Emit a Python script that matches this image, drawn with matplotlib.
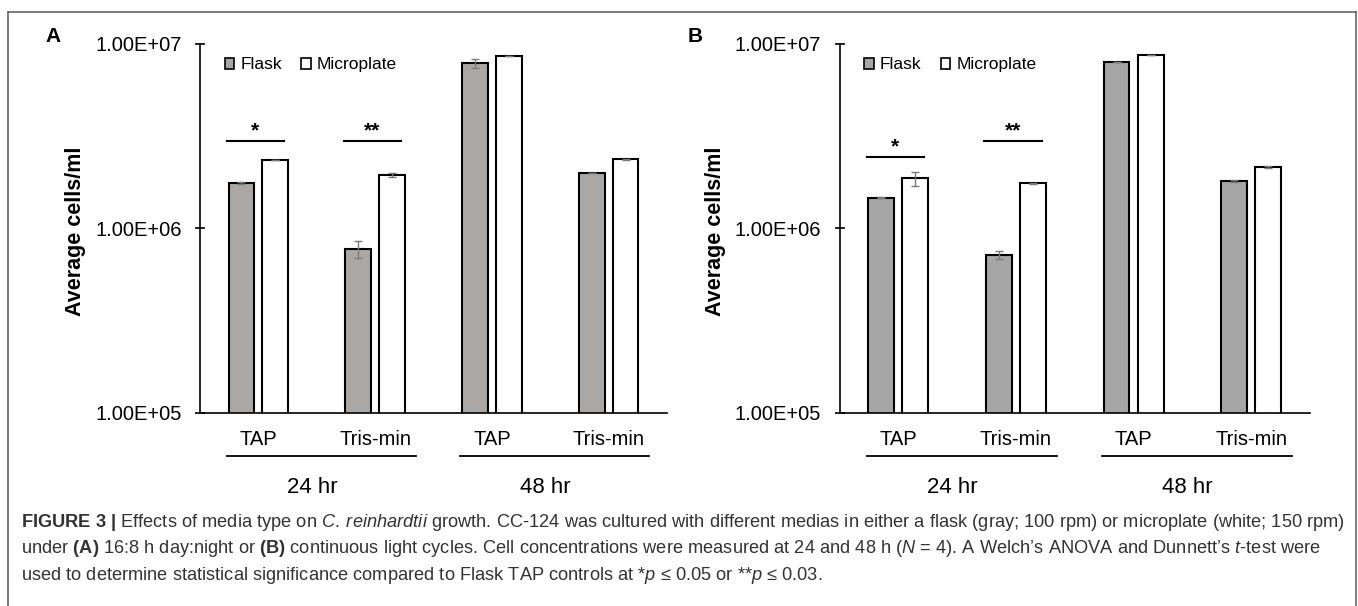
import matplotlib
matplotlib.use('Agg')
import matplotlib.pyplot as plt
from matplotlib.patches import Patch
from matplotlib.lines import Line2D
from matplotlib.ticker import NullLocator
import numpy as np

plt.rcParams['font.family'] = ['Liberation Sans', 'DejaVu Sans']
plt.rcParams['mathtext.fontset'] = 'custom'
plt.rcParams['mathtext.rm'] = 'Liberation Sans'
plt.rcParams['mathtext.it'] = 'Liberation Sans:italic'
plt.rcParams['mathtext.bf'] = 'Liberation Sans:bold'

# ---------------- data ----------------
categories = ['TAP', 'Tris-min', 'TAP', 'Tris-min']
time_labels = ['24 hr', '48 hr']
series_names = ['Flask', 'Microplate']
y_ticks = [1e5, 1e6, 1e7]
y_tick_labels = ['1.00E+05', '1.00E+06', '1.00E+07']

flask_A = [1.76e6, 7.73e5, 7.83e6, 1.99e6]
flask_A_err = [1.5e4, 8.0e4, 4.5e5, 1.0e4]
micro_A = [2.34e6, 1.95e6, 8.55e6, 2.36e6]
micro_A_err = [1.0e4, 4.5e4, 1.0e4, 2.5e4]

flask_B = [1.46e6, 7.16e5, 7.94e6, 1.80e6]
flask_B_err = [1.0e4, 3.5e4, 1.0e4, 2.0e4]
micro_B = [1.86e6, 1.75e6, 8.67e6, 2.15e6]
micro_B_err = [1.6e5, 1.0e4, 2.0e4, 2.0e4]

# significance marks: (category index, label, bracket height)
sig_A = [(0, '*', 2.97e6), (1, '**', 2.97e6)]
sig_B = [(0, '*', 2.43e6), (1, '**', 2.97e6)]

# ---------------- figure ----------------
W, H = 1358, 606
fig = plt.figure(figsize=(W / 100, H / 100), dpi=100)

def fx(px):
    return px / W

def fy(py):
    return 1 - py / H

ax_top, ax_bot = 43.5, 413.0
axA = fig.add_axes([fx(200), fy(ax_bot), fx(667 - 200), (ax_bot - ax_top) / H])
axB = fig.add_axes([fx(839.5), fy(ax_bot), fx(1310 - 839.5), (ax_bot - ax_top) / H])

panels = [
    (axA, flask_A, flask_A_err, micro_A, micro_A_err, sig_A, '#AAA7A5', 'A', 53, 76),
    (axB, flask_B, flask_B_err, micro_B, micro_B_err, sig_B, '#A6A6A6', 'B', 695, 715),
]

bar_w = 0.22
off = 0.145
x = np.arange(len(categories))

for ax, fv, fe, mv, me, sig, gray, letter, letter_x, ylab_x in panels:
    ax.set_yscale('log')
    ax.set_ylim(1e5, 1e7)
    ax.set_xlim(-0.5, 3.5)
    ax.bar(x - off, fv, width=bar_w, color=gray, edgecolor='black', linewidth=1.5, zorder=2)
    ax.bar(x + off, mv, width=bar_w, color='white', edgecolor='black', linewidth=1.5, zorder=2)
    ax.errorbar(x - off, fv, yerr=fe, fmt='none', ecolor='#7a7a7a', elinewidth=1.0,
                capsize=3, capthick=1.0, zorder=3)
    ax.errorbar(x + off, mv, yerr=me, fmt='none', ecolor='#7a7a7a', elinewidth=1.0,
                capsize=3, capthick=1.0, zorder=3)

    ax.set_yticks(y_ticks)
    ax.set_yticklabels(y_tick_labels)
    ax.yaxis.set_minor_locator(NullLocator())
    ax.set_xticks([])
    ax.tick_params(axis='y', direction='inout', length=6.5, width=1.2,
                   labelsize=14.5, pad=10)
    for s in ['top', 'right']:
        ax.spines[s].set_visible(False)
    for s in ['left', 'bottom']:
        ax.spines[s].set_linewidth(1.2)
    ax.set_facecolor('none')

    tr = ax.get_xaxis_transform()
    for i, c in enumerate(categories):
        ax.text(i, -0.0704, c, transform=tr, ha='center', va='center', fontsize=14.5,
                clip_on=False)
    for k, t in enumerate(time_labels):
        i0 = 2 * k
        ax.add_line(Line2D([i0 - 0.27, i0 + 1.35], [-0.1164, -0.1164], transform=tr,
                           color='black', lw=1.3, clip_on=False))
        ax.text(i0 + 0.46, -0.2003, t, transform=tr, ha='center', va='center',
                fontsize=16, clip_on=False)

    for i, lab, yv in sig:
        ax.plot([i - 0.27, i + 0.22], [yv, yv], color='black', lw=1.5, zorder=4)
        ax.annotate(lab, xy=(i - 0.025, yv), xytext=(0, 3), textcoords='offset points',
                    ha='center', va='baseline', fontsize=15, fontweight='bold')

    handles = [Patch(facecolor=gray, edgecolor='black', linewidth=1.2),
               Patch(facecolor='white', edgecolor='black', linewidth=1.2)]
    ax.legend(handles, series_names, loc='center left', bbox_to_anchor=(0.053, 0.942),
              ncol=2, frameon=False, fontsize=12.5, handlelength=0.55, handleheight=0.55,
              handletextpad=0.35, columnspacing=1.1, borderpad=0, borderaxespad=0)

    fig.text(fx(letter_x), fy(37), letter, ha='center', va='center', fontsize=15,
             fontweight='bold')
    fig.text(fx(ylab_x), fy(231), 'Average cells/ml', rotation=90, ha='center',
             va='center', fontsize=15.5, fontweight='bold')

# border around figure
bc = '#666666'
x0, x1, yt = fx(8), fx(1356), fy(12)
fig.add_artist(Line2D([x0, x0], [-0.05, yt], transform=fig.transFigure, color=bc, lw=1.2))
fig.add_artist(Line2D([x0, x1], [yt, yt], transform=fig.transFigure, color=bc, lw=1.2))
fig.add_artist(Line2D([x1, x1], [-0.05, yt], transform=fig.transFigure, color=bc, lw=1.2))

# caption
cap_color = '#333333'
cap_size = 13.15
cap_lines = [
    r"$\mathbf{FIGURE\ 3\ |}$ Effects of media type on $\mathit{C.\:reinhardtii}$ growth. "
    r"CC-124 was cultured with different medias in either a flask (gray; 100 rpm) or microplate (white; 150 rpm)",
    r"under $\mathbf{(A)}$ 16:8 h day:night or $\mathbf{(B)}$ continuous light cycles. "
    r"Cell concentrations were measured at 24 and 48 h ($\mathit{N}$ = 4). "
    r"A Welch’s ANOVA and Dunnett’s $\mathit{t}$-test were",
    r"used to determine statistical significance compared to Flask TAP controls at "
    r"*$\mathit{p}$ ≤ 0.05 or **$\mathit{p}$ ≤ 0.03.",
]
for line, yb in zip(cap_lines, [527, 553, 580]):
    fig.text(fx(21), fy(yb), line, ha='left', va='baseline', fontsize=cap_size,
             color=cap_color)

fig.savefig('out.png', dpi=100)
